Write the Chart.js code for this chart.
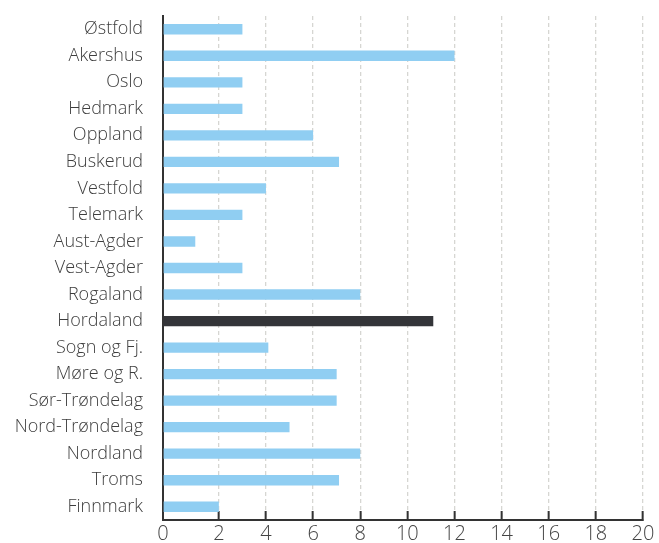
<!DOCTYPE html>
<html>
<head>
<meta charset="utf-8">
<script src="https://cdn.jsdelivr.net/npm/chart.js@4/dist/chart.umd.min.js"></script>
<style>
  html, body { margin: 0; padding: 0; background: #fff; }
  #wrap { width: 659px; height: 543px; }
</style>
</head>
<body>
<div id="wrap"><canvas id="fylkeChart"></canvas></div>
<script>
// fylker, top to bottom
const categories = ['Østfold', 'Akershus', 'Oslo', 'Hedmark', 'Oppland', 'Buskerud', 'Vestfold',
  'Telemark', 'Aust-Agder', 'Vest-Agder', 'Rogaland', 'Hordaland', 'Sogn og Fj.', 'Møre og R.',
  'Sør-Trøndelag', 'Nord-Trøndelag', 'Nordland', 'Troms', 'Finnmark'];
const values = [3, 12, 3, 3, 6, 7.1, 4, 3, 1, 3, 8, 11.1, 4.1, 7, 7, 5, 8, 7.1, 2];
const highlight = 'Hordaland';
const xTicks = [0, 2, 4, 6, 8, 10, 12, 14, 16, 18, 20];

// the axis starts a bit left of zero in the original
const axisStart = -0.37;

const ctx = document.getElementById('fylkeChart').getContext('2d');

new Chart(ctx, {
  type: 'bar',
  data: {
    labels: categories,
    datasets: [{
      data: values,
      base: axisStart,
      backgroundColor: categories.map(c => c === highlight ? '#343539' : '#90cef2'),
      barPercentage: 0.39,
      categoryPercentage: 1
    }]
  },
  options: {
    indexAxis: 'y',
    responsive: true,
    maintainAspectRatio: false,
    animation: false,
    layout: { padding: { top: 16, right: 16, left: 0, bottom: 0 } },
    plugins: {
      legend: { display: false },
      tooltip: { enabled: false }
    },
    scales: {
      x: {
        min: axisStart,
        max: 20,
        z: 1,
        afterBuildTicks: function (scale) {
          scale.ticks = xTicks.map(v => ({ value: v === 0 ? axisStart : v }));
        },
        afterFit: function (scale) {
          scale.height = 23;
          // label padding would otherwise push the right edge in
          scale.paddingRight = 12;
          scale.paddingLeft = 0;
        },
        border: { display: true, color: '#333', width: 2, dash: [4, 3] },
        grid: {
          color: function (c) { return c.tick && c.tick.value === axisStart ? 'rgba(0,0,0,0)' : '#d6d6d2'; },
          lineWidth: 1.3,
          drawTicks: true,
          tickLength: -9,
          tickColor: function (c) { return c.tick && c.tick.value === axisStart ? 'rgba(0,0,0,0)' : '#333'; },
          tickWidth: 2,
          tickBorderDash: []
        },
        ticks: {
          autoSkip: false,
          maxRotation: 0,
          padding: 11,
          color: '#444',
          font: { family: 'Open Sans', size: 20, weight: '300' },
          callback: function (v) { return v === axisStart ? '0' : v; }
        }
      },
      y: {
        z: 1,
        afterFit: function (scale) { scale.width = 163; },
        border: { display: true, color: '#333', width: 2 },
        // tick marks hidden, tickLength only spaces the labels from the axis
        grid: { display: false, drawTicks: true, tickLength: 20 },
        ticks: {
          autoSkip: false,
          padding: 0,
          color: '#3d3d3d',
          font: { family: 'Open Sans', size: 18, weight: '300' }
        }
      }
    }
  }
});
</script>
</body>
</html>
